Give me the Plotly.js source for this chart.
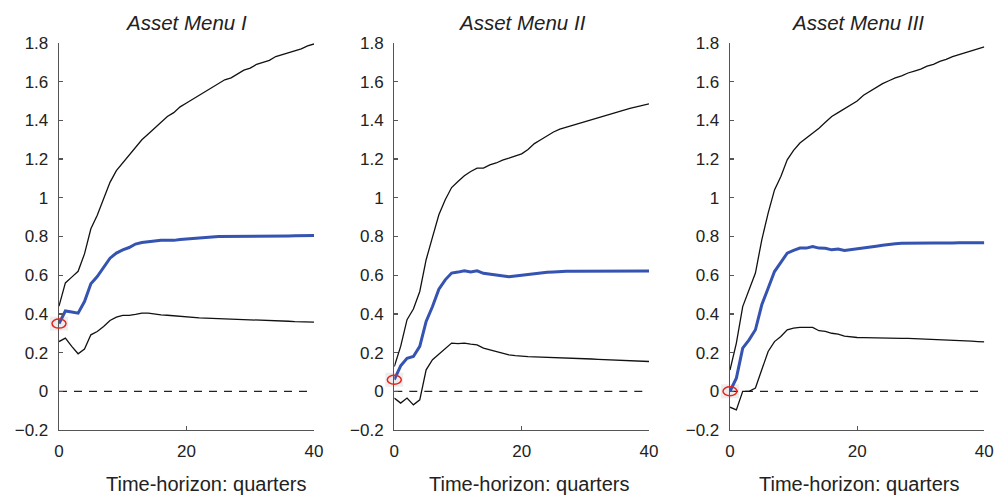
<!DOCTYPE html>
<html>
<head>
<meta charset="utf-8">
<script src="https://cdn.plot.ly/plotly-3.0.1.min.js"></script>
<style>html,body{margin:0;padding:0;background:#fff;}#chart{width:997px;height:497px;}</style>
</head>
<body>
<div id="chart"></div>
<script>
// Quarters 0..40
const quarters = Array.from({length: 41}, (_, i) => i);

const panelTitles = ["Asset Menu I", "Asset Menu II", "Asset Menu III"];
const xAxisTitle = "Time-horizon: quarters";

// Asset Menu I
const upper1 = [0.44,0.56,0.59,0.62,0.71,0.84,0.91,0.99,1.08,1.14,1.18,1.22,1.26,1.30,1.33,1.36,1.39,1.42,1.44,1.47,1.49,1.51,1.53,1.55,1.57,1.59,1.61,1.62,1.64,1.66,1.67,1.69,1.70,1.71,1.73,1.74,1.75,1.76,1.77,1.785,1.795];
const median1 = [0.35,0.415,0.41,0.404,0.464,0.556,0.593,0.642,0.688,0.714,0.731,0.743,0.761,0.769,0.773,0.774,0.78,0.78,0.78,0.785,0.787,0.79,0.79,0.795,0.797,0.80,0.80,0.80,0.80,0.80,0.801,0.801,0.802,0.802,0.802,0.803,0.803,0.804,0.804,0.805,0.805];
const lower1 = [0.257,0.275,0.232,0.194,0.218,0.292,0.309,0.335,0.366,0.383,0.392,0.392,0.397,0.404,0.404,0.399,0.395,0.393,0.39,0.386,0.383,0.381,0.379,0.378,0.377,0.376,0.375,0.374,0.373,0.371,0.37,0.369,0.368,0.366,0.365,0.363,0.362,0.36,0.359,0.358,0.357];

// Asset Menu II
const upper2 = [0.128,0.232,0.37,0.425,0.516,0.68,0.797,0.912,0.99,1.053,1.084,1.114,1.136,1.153,1.153,1.17,1.18,1.195,1.205,1.215,1.227,1.25,1.28,1.30,1.32,1.34,1.355,1.365,1.375,1.385,1.395,1.405,1.415,1.425,1.435,1.445,1.455,1.462,1.47,1.478,1.486];
const median2 = [0.06,0.132,0.171,0.18,0.232,0.361,0.438,0.528,0.576,0.611,0.616,0.623,0.617,0.623,0.61,0.606,0.599,0.596,0.592,0.596,0.60,0.605,0.61,0.613,0.615,0.617,0.62,0.62,0.62,0.62,0.621,0.62,0.621,0.621,0.62,0.621,0.621,0.622,0.621,0.622,0.622];
const lower2 = [-0.035,-0.061,-0.035,-0.07,-0.044,0.111,0.163,0.192,0.223,0.249,0.246,0.249,0.244,0.24,0.223,0.214,0.206,0.197,0.188,0.184,0.18,0.179,0.178,0.177,0.176,0.175,0.175,0.174,0.172,0.17,0.168,0.167,0.165,0.164,0.163,0.162,0.16,0.159,0.157,0.156,0.154];

// Asset Menu III
const upper3 = [0.11,0.249,0.438,0.525,0.611,0.783,0.921,1.041,1.11,1.196,1.245,1.283,1.308,1.337,1.36,1.39,1.42,1.44,1.46,1.48,1.50,1.53,1.55,1.57,1.59,1.605,1.62,1.63,1.645,1.655,1.665,1.68,1.69,1.705,1.715,1.73,1.74,1.75,1.76,1.77,1.78];
const median3 = [0.0,0.068,0.223,0.266,0.318,0.447,0.533,0.619,0.666,0.714,0.728,0.74,0.74,0.748,0.74,0.739,0.731,0.735,0.728,0.732,0.735,0.74,0.745,0.75,0.755,0.76,0.763,0.765,0.766,0.766,0.767,0.766,0.767,0.767,0.766,0.767,0.768,0.768,0.767,0.768,0.768];
const lower3 = [-0.082,-0.096,0.0,0.0,0.017,0.115,0.206,0.257,0.283,0.318,0.327,0.33,0.33,0.33,0.313,0.31,0.30,0.296,0.285,0.28,0.278,0.277,0.277,0.276,0.276,0.275,0.275,0.274,0.273,0.272,0.271,0.27,0.269,0.268,0.266,0.265,0.263,0.261,0.259,0.257,0.255];

const yTickVals = [-0.2,0,0.2,0.4,0.6,0.8,1,1.2,1.4,1.6,1.8];
const yTickText = ["\u22120.2","0","0.2","0.4","0.6","0.8","1","1.2","1.4","1.6","1.8"];
const xTickVals = [0,20,40];

const panels = [
  {upper: upper1, median: median1, lower: lower1},
  {upper: upper2, median: median2, lower: lower2},
  {upper: upper3, median: median3, lower: lower3}
];

const W = 997, H = 497;
const xDomPx = [[59,314],[394.3,649],[730,984.3]];
const yDomPx = [43,430];
const yRange = [-0.2, 1.8];
const xRange = [0, 40];
const titleXpx = [186, 522, 857];
const xTitlePx = [206, 529, 859];

const traces = [];
const layout = {
  width: W, height: H,
  margin: {l:0, r:0, t:0, b:0},
  paper_bgcolor: "#fff", plot_bgcolor: "#fff",
  showlegend: false,
  font: {family: "Liberation Sans, Arial, sans-serif", color: "#222", size: 16},
  annotations: [], shapes: []
};

panels.forEach((p, i) => {
  const n = i === 0 ? "" : String(i + 1);
  const xa = "x" + n, ya = "y" + n;
  traces.push({x: [quarters[0], quarters[quarters.length-1]], y: [0, 0], xaxis: xa, yaxis: ya, mode: "lines",
    line: {color: "#222", width: 1.2, dash: "8px,7px"}, hoverinfo: "skip"});
  traces.push({x: quarters, y: p.upper, xaxis: xa, yaxis: ya, mode: "lines", line: {color: "#111", width: 1.3}});
  traces.push({x: quarters, y: p.lower, xaxis: xa, yaxis: ya, mode: "lines", line: {color: "#111", width: 1.3}});
  traces.push({x: quarters, y: p.median, xaxis: xa, yaxis: ya, mode: "lines", line: {color: "#3553b0", width: 3}});

  const xDom = [xDomPx[i][0]/W, xDomPx[i][1]/W];
  const yDom = [1 - yDomPx[1]/H, 1 - yDomPx[0]/H];
  const xKey = "xaxis" + n, yKey = "yaxis" + n;
  layout[xKey] = {
    domain: xDom, range: xRange, anchor: ya,
    showgrid: false, zeroline: false, showline: true, linecolor: "#555", linewidth: 1.3,
    ticks: "inside", ticklen: 4, tickcolor: "#555", tickwidth: 1.3,
    tickmode: "array", tickvals: xTickVals, ticktext: xTickVals.map(String),
    tickfont: {size: 17, color: "#222"}, ticklabelstandoff: 5
  };
  layout[yKey] = {
    domain: yDom, range: yRange, anchor: xa,
    showgrid: false, zeroline: false, showline: true, linecolor: "#555", linewidth: 1.3,
    ticks: "inside", ticklen: 4, tickcolor: "#555", tickwidth: 1.3,
    tickmode: "array", tickvals: yTickVals, ticktext: yTickText,
    tickfont: {size: 17, color: "#222"}, ticklabelstandoff: 6
  };
  layout.annotations.push({
    text: "<i>" + panelTitles[i] + "</i>", xref: "paper", yref: "paper",
    x: titleXpx[i]/W, y: 1 - 22.7/H, xanchor: "center", yanchor: "middle",
    showarrow: false, font: {size: 20.5, color: "#222"}
  });
  layout.annotations.push({
    text: xAxisTitle, xref: "paper", yref: "paper",
    x: xTitlePx[i]/W, y: 1 - 484/H, xanchor: "center", yanchor: "middle",
    showarrow: false, font: {size: 20, color: "#222"}
  });
  // red ellipse (with faint grey halo) around the starting point of the median, mapped to paper coords
  const ax = xDom[0] + (quarters[0] - xRange[0]) / (xRange[1] - xRange[0]) * (xDom[1] - xDom[0]);
  const ay = yDom[0] + (p.median[0] - yRange[0]) / (yRange[1] - yRange[0]) * (yDom[1] - yDom[0]);
  layout.shapes.push({
    type: "rect", xref: "paper", yref: "paper", xsizemode: "pixel", ysizemode: "pixel",
    xanchor: ax, yanchor: ay, x0: -9, x1: 9, y0: -7, y1: 7,
    line: {width: 0}, fillcolor: "rgba(0,0,0,0.07)", layer: "below"
  });
  layout.shapes.push({
    type: "circle", xref: "paper", yref: "paper", xsizemode: "pixel", ysizemode: "pixel",
    xanchor: ax, yanchor: ay, x0: -7, x1: 7, y0: -4.5, y1: 4.5,
    line: {color: "#e8231f", width: 1.5}, fillcolor: "rgba(0,0,0,0)"
  });
});

Plotly.newPlot("chart", traces, layout, {displayModeBar: false, staticPlot: true});
</script>
</body>
</html>
